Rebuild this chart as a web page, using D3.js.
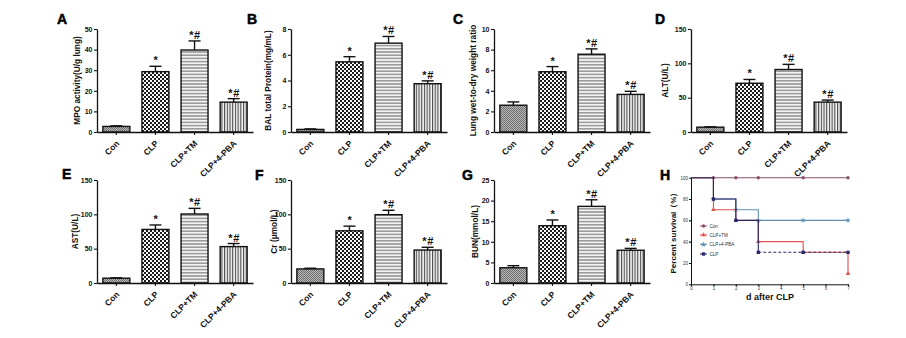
<!DOCTYPE html>
<html>
<head>
<meta charset="utf-8">
<script src="https://cdn.jsdelivr.net/npm/d3@7"></script>
<style>
body { margin: 0; background: #fff; }
svg { display: block; font-family: Arial, 'Liberation Sans', sans-serif; }
</style>
</head>
<body>
<svg id="chart" width="906" height="338"></svg>
<script>
var groups = ['Con', 'CLP', 'CLP+TM', 'CLP+4-PBA'];
var marks = ['', '*', '*#', '*#'];

var mpoMean = [2.7, 29.3, 39.8, 14.5];
var mpoSem = [0.3, 2.6, 4.4, 1.7];
var mpoTicks = [0, 10, 20, 30, 40, 50];

var balMean = [0.2, 5.45, 6.9, 3.75];
var balSem = [0.04, 0.4, 0.52, 0.22];
var balTicks = [0, 2, 4, 6, 8];

var wetDryMean = [2.6, 5.85, 7.55, 3.65];
var wetDrySem = [0.32, 0.5, 0.52, 0.3];
var wetDryTicks = [0, 2, 4, 6, 8, 10];

var altMean = [7, 71, 91, 43.5];
var altSem = [0.5, 5.5, 7.5, 3];
var altTicks = [0, 50, 100, 150];

var astMean = [7, 78, 100.5, 53];
var astSem = [0.5, 6.5, 8.2, 4.5];
var astTicks = [0, 50, 100, 150];

var crMean = [20.5, 76, 99.5, 48];
var crSem = [1, 6.8, 6.4, 4];
var crTicks = [0, 50, 100, 150];

var bunMean = [3.7, 13.9, 18.6, 7.95];
var bunSem = [0.5, 1.4, 1.6, 0.45];
var bunTicks = [0, 5, 10, 15, 20, 25];

// survival (%) by day after CLP
var days = [0, 1, 2, 3, 5, 7];
var survCon = [100, 100, 100, 100, 100, 100];
var survTM = [100, 70, 60, 40, 30, 10];
var survPBA = [100, 80, 70, 60, 60, 60];
var survCLP = [100, 80, 60, 30, 30, 30];
var survTicks = [0, 20, 40, 60, 80, 100];
var dayTicks = [0, 1, 2, 3, 4, 5, 6, 7];

var svg = d3.select('#chart');
var panelW = 156, panelH = 103;

var barPanels = [
    {letter: 'A', title: 'MPO activity(U/g lung)', mean: mpoMean, sem: mpoSem, ticks: mpoTicks},
    {letter: 'B', title: 'BAL total Protein(mg/mL)', mean: balMean, sem: balSem, ticks: balTicks},
    {letter: 'C', title: 'Lung wet-to-dry weight ratio', mean: wetDryMean, sem: wetDrySem, ticks: wetDryTicks},
    {letter: 'D', title: 'ALT(U/L)', mean: altMean, sem: altSem, ticks: altTicks},
    {letter: 'E', title: 'AST(U/L)', mean: astMean, sem: astSem, ticks: astTicks},
    {letter: 'F', title: 'Cr (\u03bcmol/L)', mean: crMean, sem: crSem, ticks: crTicks},
    {letter: 'G', title: 'BUN(mmol/L)', mean: bunMean, sem: bunSem, ticks: bunTicks}
];

var layout = [
    {x: 97, y: 29, letterX: 57, letterY: 24, titleDx: 19.5},
    {x: 291, y: 29, letterX: 247, letterY: 24, titleDx: 23},
    {x: 494, y: 29, letterX: 453, letterY: 24, titleDx: 20.5},
    {x: 691, y: 29, letterX: 655, letterY: 24, titleDx: 25.5},
    {x: 97, y: 180, letterX: 62, letterY: 179, titleDx: 22},
    {x: 291, y: 180, letterX: 255, letterY: 180, titleDx: 17},
    {x: 494, y: 180, letterX: 462, letterY: 180, titleDx: 19},
    {x: 691, y: 178, letterX: 660, letterY: 180, titleDx: 17.5}
];

// fill patterns, one per group
var defs = svg.append('defs');
var patternIds = ['pat-con', 'pat-clp', 'pat-tm', 'pat-pba'];

var pCon = defs.append('pattern').attr('id', 'pat-con').attr('patternUnits', 'userSpaceOnUse')
    .attr('width', 2).attr('height', 2);
pCon.append('rect').attr('width', 2).attr('height', 2).attr('fill', '#b8b8b8');
pCon.append('rect').attr('width', 1).attr('height', 1).attr('fill', '#6e6e6e');
pCon.append('rect').attr('x', 1).attr('y', 1).attr('width', 1).attr('height', 1).attr('fill', '#6e6e6e');

var pClp = defs.append('pattern').attr('id', 'pat-clp').attr('patternUnits', 'userSpaceOnUse')
    .attr('width', 4).attr('height', 4);
pClp.append('rect').attr('width', 4).attr('height', 4).attr('fill', '#fafafa');
pClp.append('rect').attr('width', 2).attr('height', 2).attr('fill', '#1c1c1c');
pClp.append('rect').attr('x', 2).attr('y', 2).attr('width', 2).attr('height', 2).attr('fill', '#1c1c1c');

var pTm = defs.append('pattern').attr('id', 'pat-tm').attr('patternUnits', 'userSpaceOnUse')
    .attr('width', 4).attr('height', 3.2);
pTm.append('rect').attr('width', 4).attr('height', 3.2).attr('fill', '#f4f4f4');
pTm.append('rect').attr('width', 4).attr('height', 1.6).attr('fill', '#9c9c9c');

var pPba = defs.append('pattern').attr('id', 'pat-pba').attr('patternUnits', 'userSpaceOnUse')
    .attr('width', 2.7).attr('height', 4);
pPba.append('rect').attr('width', 2.7).attr('height', 4).attr('fill', '#f6f6f6');
pPba.append('rect').attr('width', 1.1).attr('height', 4).attr('fill', '#4a4a4a');

var styleAxis = function(ax) {
    ax.select('.domain').style('stroke', '#111').style('stroke-width', 1.3);
    ax.selectAll('.tick line').style('stroke', '#111').style('stroke-width', 1.1);
};

var drawLetter = function(lay, letter) {
    svg.append('text').attr('x', lay.letterX).attr('y', lay.letterY)
        .text(letter)
        .style('font-size', '14px').style('font-weight', 'bold')
        .style('stroke', '#000').style('stroke-width', 0.5)
        .style('fill', '#000');
};

var drawTitle = function(lay, top, bottom, title, size) {
    svg.append('text')
        .attr('transform', 'translate(' + (lay.x - lay.titleDx) + ',' + ((top + bottom) / 2) + ') rotate(-90)')
        .attr('text-anchor', 'middle').attr('dy', '0.35em')
        .text(title)
        .style('font-size', size).style('font-weight', 'bold').style('fill', '#111');
};

var drawBarPanel = function(p, lay) {
    var g = svg.append('g');
    var xs = d3.scaleBand().domain(groups).range([lay.x, lay.x + panelW])
        .paddingInner(0.31).paddingOuter(0.15);
    var ys = d3.scaleLinear().domain([0, d3.max(p.ticks)]).range([lay.y + panelH, lay.y]);
    var base = ys(0);
    var cx = function(d) { return xs(d) + xs.bandwidth() / 2; };

    g.selectAll('rect.bar').data(groups).enter().append('rect')
        .attr('class', 'bar')
        .attr('x', function(d) { return xs(d); })
        .attr('y', function(d, i) { return ys(p.mean[i]); })
        .attr('width', xs.bandwidth())
        .attr('height', function(d, i) { return base - ys(p.mean[i]); })
        .style('fill', function(d, i) { return 'url(#' + patternIds[i] + ')'; })
        .style('stroke', '#111').style('stroke-width', 1.4);

    // upper error bars with caps
    var err = g.selectAll('g.err').data(groups).enter().append('g').attr('class', 'err');
    err.append('line')
        .attr('x1', cx).attr('x2', cx)
        .attr('y1', function(d, i) { return ys(p.mean[i]); })
        .attr('y2', function(d, i) { return ys(p.mean[i] + p.sem[i]); });
    err.append('line')
        .attr('x1', function(d) { return cx(d) - 6; })
        .attr('x2', function(d) { return cx(d) + 6; })
        .attr('y1', function(d, i) { return ys(p.mean[i] + p.sem[i]); })
        .attr('y2', function(d, i) { return ys(p.mean[i] + p.sem[i]); });
    err.selectAll('line').style('stroke', '#111').style('stroke-width', 1.4);

    g.selectAll('text.mark').data(groups).enter().append('text')
        .attr('class', 'mark')
        .attr('x', function(d) { return cx(d) + 0.5; })
        .attr('y', function(d, i) { return ys(p.mean[i] + p.sem[i]) - 2; })
        .attr('text-anchor', 'middle')
        .text(function(d, i) { return marks[i]; })
        .style('font-size', '11px').style('font-weight', 'bold')
        .style('letter-spacing', '0.6px').style('fill', '#111');

    var ya = g.append('g').attr('transform', 'translate(' + lay.x + ',0)')
        .call(d3.axisLeft(ys).tickValues(p.ticks).tickSize(3).tickSizeOuter(0).tickPadding(1.5));
    ya.selectAll('text').style('font-size', '7px').style('font-weight', 'bold').style('fill', '#111');
    styleAxis(ya);

    var xa = g.append('g').attr('transform', 'translate(0,' + base + ')')
        .call(d3.axisBottom(xs).tickSize(3).tickSizeOuter(0));
    xa.selectAll('text')
        .attr('x', null).attr('y', null).attr('dy', null)
        .attr('transform', 'translate(3.5,12) rotate(-45)')
        .style('text-anchor', 'end')
        .style('font-size', '8.5px').style('font-weight', 'bold').style('fill', '#111');
    styleAxis(xa);

    drawTitle(lay, lay.y, base, p.title, '8.3px');
    drawLetter(lay, p.letter);
};

barPanels.forEach(function(p, i) { drawBarPanel(p, layout[i]); });

// H: Kaplan-Meier survival
var survival = [
    {name: 'Con', values: survCon, color: '#8a4e6c', symbol: d3.symbolCircle, size: 9},
    {name: 'CLP+TM', values: survTM, color: '#e0504c', symbol: d3.symbolTriangle, size: 9},
    {name: 'CLP+4-PBA', values: survPBA, color: '#5e90b3', symbol: d3.symbolStar, size: 10},
    {name: 'CLP', values: survCLP, color: '#272668', symbol: d3.symbolSquare, size: 11}
];
var drawOrder = [0, 2, 1, 3];

var hLay = layout[7];
var hx = d3.scaleLinear().domain([0, 7]).range([691, 848]);
var hy = d3.scaleLinear().domain([0, 100]).range([284.3, 177.7]);
var hg = svg.append('g');

var stepLine = d3.line()
    .x(function(d) { return hx(d[0]); })
    .y(function(d) { return hy(d[1]); })
    .curve(d3.curveStepAfter);

drawOrder.forEach(function(k) {
    var s = survival[k];
    var pts = days.map(function(d, i) { return [d, s.values[i]]; });
    if (s.name === 'CLP') {
        // solid until the last drop, dashed after
        hg.append('path').attr('d', stepLine(pts.slice(0, 4)))
            .style('fill', 'none').style('stroke', s.color).style('stroke-width', 1.1);
        hg.append('path').attr('d', stepLine(pts.slice(3)))
            .style('fill', 'none').style('stroke', s.color).style('stroke-width', 1.1)
            .style('stroke-dasharray', '3,2');
    } else {
        hg.append('path').attr('d', stepLine(pts))
            .style('fill', 'none').style('stroke', s.color).style('stroke-width', 1.1);
    }
    hg.selectAll(null).data(pts.slice(1)).enter().append('path')
        .attr('transform', function(d) { return 'translate(' + hx(d[0]) + ',' + hy(d[1]) + ')'; })
        .attr('d', d3.symbol().type(s.symbol).size(s.size))
        .style('fill', s.color);
});

var hya = hg.append('g').attr('transform', 'translate(691,0)')
    .call(d3.axisLeft(hy).tickValues(survTicks).tickFormat(d3.format('d'))
        .tickSize(2).tickSizeOuter(0).tickPadding(1));
hya.selectAll('text').style('font-size', '4.5px').style('fill', '#333');
styleAxis(hya);
hya.select('.domain').style('stroke-width', 1);

var hxa = hg.append('g').attr('transform', 'translate(0,284.3)')
    .call(d3.axisBottom(hx).tickValues(dayTicks).tickFormat(d3.format('d'))
        .tickSize(2).tickSizeOuter(0).tickPadding(1));
hxa.selectAll('text').style('font-size', '4.5px').style('fill', '#333');
styleAxis(hxa);
hxa.select('.domain').style('stroke-width', 1);

hg.append('text').attr('x', 770).attr('y', 300)
    .attr('text-anchor', 'middle')
    .text('d after CLP')
    .style('font-size', '9px').style('font-weight', 'bold').style('fill', '#111');

drawTitle(hLay, 177.7, 284.3, 'Percent survival\uff08%\uff09', '8px');
drawLetter(hLay, 'H');

// legend
var legendY = [226, 235, 244.5, 254];
survival.forEach(function(s, i) {
    var lg = hg.append('g').attr('transform', 'translate(700,' + legendY[i] + ')');
    lg.append('line').attr('x1', 0).attr('x2', 7).attr('y1', 0).attr('y2', 0)
        .style('stroke', s.color).style('stroke-width', 1);
    lg.append('path').attr('transform', 'translate(3.5,0)')
        .attr('d', d3.symbol().type(s.symbol).size(s.size))
        .style('fill', s.color);
    lg.append('text').attr('x', 9.5).attr('y', 0).attr('dy', '0.35em')
        .text(s.name)
        .style('font-size', '4.6px').style('fill', '#333');
});
</script>
</body>
</html>
